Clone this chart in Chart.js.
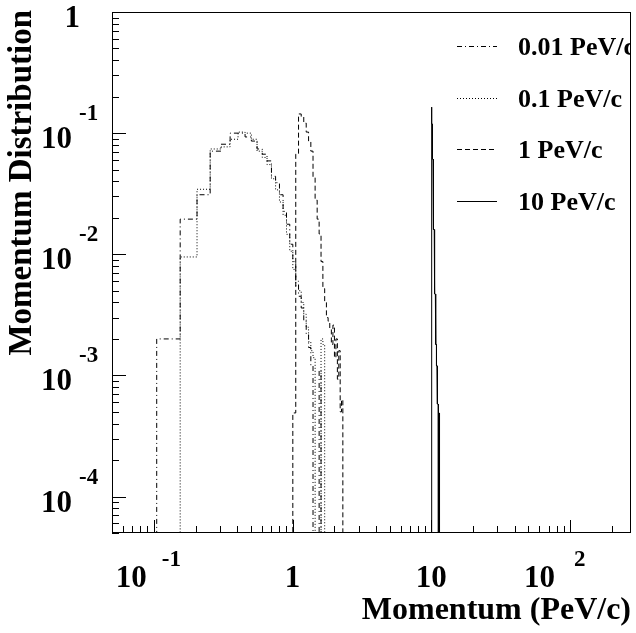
<!DOCTYPE html>
<html>
<head>
<meta charset="utf-8">
<script src="https://cdn.jsdelivr.net/npm/chart.js@4.4.0/dist/chart.umd.min.js"></script>
<style>
  html, body { margin: 0; padding: 0; background: #fff; }
  canvas { display: block; }
</style>
</head>
<body>
<canvas id="chart" width="636" height="633"></canvas>
<script>
// bin edges (PeV/c) and contents
const lowEdges = [0.105, 0.155, 0.205, 0.255, 0.305, 0.355, 0.405, 0.455, 0.505, 0.555,
  0.605, 0.655, 0.705, 0.755, 0.805, 0.855, 0.905, 0.955, 1.005, 1.055, 1.105, 1.155,
  1.205, 1.255, 1.305, 1.355, 1.405, 1.455, 1.505, 1.555, 1.605, 1.655, 1.705];
const values001 = [0.0020, 0.0195, 0.031, 0.071, 0.081, 0.100, 0.100, 0.093, 0.086, 0.074,
  0.067, 0.059, 0.044, 0.039, 0.031, 0.0226, 0.0177, 0.0121, 0.0087, 0.0060, 0.0045, 0.0036,
  0.0028, 0.0022, 0.0017, 0.0012, 0, 0, 0, 0.0011, 0, 0];
const values01 = [0, 0.0095, 0.0344, 0.074, 0.077, 0.089, 0.102, 0.100, 0.089, 0.071,
  0.063, 0.055, 0.042, 0.034, 0.027, 0.021, 0.0146, 0.0106, 0.0075, 0.0055, 0.0050, 0.0040,
  0.0032, 0.0025, 0.0019, 0.0016, 0.0014, 0, 0, 0, 0.0020, 0.0018];

const edges1 = [1.005, 1.055, 1.105, 1.155, 1.205, 1.255, 1.305, 1.355, 1.405, 1.455,
  1.505, 1.555, 1.605, 1.655, 1.705, 1.755, 1.805, 1.855, 1.905, 1.955, 2.005, 2.055,
  2.105, 2.155, 2.205, 2.255, 2.305];
const values1 = [0.00049, 0.067, 0.144, 0.136, 0.121, 0.102, 0.086, 0.071, 0.043, 0.028,
  0.0195, 0.0147, 0.0087, 0.0052, 0.0041, 0.0030, 0.0028, 0.0024, 0.0018, 0.0026, 0.0014,
  0.0020, 0.00093, 0.0016, 0.0005, 0.00063];

const edges10 = [10.0, 10.1, 10.2, 10.3, 10.4, 10.5, 10.6, 10.7, 10.8, 10.9, 11.0, 11.1,
  11.2, 11.3, 11.4, 11.5, 11.6];
const values10 = [0.164, 0.119, 0.061, 0.0284, 0.016, 0.0087, 0.0047, 0.0025, 0.0018,
  0.0012, 0.00085, 0.00058, 0.00049, 0, 0.00049, 0];

const seriesLabels = ["0.01 PeV/c", "0.1 PeV/c", "1 PeV/c", "10 PeV/c"];
const seriesDash = [[5, 3, 1, 3], [1, 2], [5, 3], []];

const xMajor = [0.1, 1, 10, 100];
const xTickBase = ["10", "1", "10", "10"];
const xTickExp = ["-1", "", "", "2"];
const yMajor = [1, 0.1, 0.01, 0.001, 0.0001];
const yTickBase = ["1", "10", "10", "10", "10"];
const yTickExp = ["", "-1", "-2", "-3", "-4"];

const X_MIN = 0.05, X_MAX = 275;
const Y_MIN = 5e-5, Y_MAX = 1;
const FLOOR = 1e-7; // empty bins drop below the axis

const SERIF = "'Liberation Serif', 'Times New Roman', serif";

// histogram outline: up at the first edge, across each bin, down at the last edge
function histPoints(edges, values) {
  const pts = [{ x: edges[0], y: FLOOR }];
  values.forEach((v, i) => {
    const y = v > 0 ? v : FLOOR;
    pts.push({ x: edges[i], y }, { x: edges[i + 1], y });
  });
  pts.push({ x: edges[edges.length - 1], y: FLOOR });
  return pts;
}

const histData = [
  histPoints(lowEdges, values001),
  histPoints(lowEdges, values01),
  histPoints(edges1, values1),
  histPoints(edges10, values10),
];

function logTicks(min, max) {
  const out = [];
  for (let e = Math.floor(Math.log10(min)); e <= Math.ceil(Math.log10(max)); e++) {
    for (let m = 1; m <= 9; m++) {
      const v = m * Math.pow(10, e);
      if (v >= min * 0.999 && v <= max * 1.001) out.push({ v, major: m === 1 });
    }
  }
  return out;
}

// frame, inward ticks, labels, titles and legend, drawn like the original
const rootAxes = {
  id: "rootAxes",
  afterDatasetsDraw(chart) {
    const { ctx, chartArea: a, scales } = chart;
    const x = scales.x, y = scales.y;
    ctx.save();
    ctx.strokeStyle = "#000";
    ctx.fillStyle = "#000";
    ctx.lineWidth = 1;
    ctx.setLineDash([]);

    ctx.strokeRect(Math.round(a.left) + 0.5, Math.round(a.top) + 0.5,
      Math.round(a.right - a.left) - 1, Math.round(a.bottom - a.top) - 1);

    ctx.beginPath();
    logTicks(X_MIN, X_MAX).forEach((t) => {
      const px = Math.round(x.getPixelForValue(t.v)) + 0.5;
      ctx.moveTo(px, a.bottom);
      ctx.lineTo(px, a.bottom - (t.major ? 13 : 7));
    });
    logTicks(Y_MIN, Y_MAX).forEach((t) => {
      const py = Math.round(y.getPixelForValue(t.v)) + 0.5;
      ctx.moveTo(a.left, py);
      ctx.lineTo(a.left + (t.major ? 14 : 7), py);
    });
    ctx.stroke();

    const big = "bold 31px " + SERIF;
    const small = "bold 23px " + SERIF;
    ctx.textBaseline = "alphabetic";

    xMajor.forEach((v, i) => {
      const px = x.getPixelForValue(v);
      ctx.font = big;
      if (xTickExp[i]) {
        // short exponents sit a little further left, as in the original
        const shift = xTickExp[i].length === 1 ? 8 : 0;
        ctx.textAlign = "right";
        ctx.fillText(xTickBase[i], px - 7 - shift, 587);
        ctx.font = small;
        ctx.textAlign = "left";
        ctx.fillText(xTickExp[i], px + 8 - shift / 2, 566);
      } else {
        ctx.textAlign = "center";
        ctx.fillText(xTickBase[i], px, 587);
      }
    });

    yMajor.forEach((v, i) => {
      const py = y.getPixelForValue(v);
      ctx.font = big;
      if (yTickExp[i]) {
        ctx.textAlign = "right";
        ctx.fillText(yTickBase[i], 72, py + 15);
        ctx.font = small;
        ctx.textAlign = "left";
        ctx.fillText(yTickExp[i], 79, py - 13);
      } else {
        ctx.textAlign = "right";
        ctx.fillText(yTickBase[i], 80, py + 15);
      }
    });

    ctx.font = "bold 32px " + SERIF;
    ctx.textAlign = "right";
    ctx.fillText("Momentum (PeV/c)", 631, 619);

    ctx.save();
    ctx.font = "bold 33px " + SERIF;
    ctx.translate(31, 10);
    ctx.rotate(-Math.PI / 2);
    ctx.fillText("Momentum Distribution", 0, 0);
    ctx.restore();

    // legend
    ctx.save();
    ctx.beginPath();
    ctx.rect(a.left, a.top, a.right - a.left, a.bottom - a.top);
    ctx.clip();
    ctx.font = "bold 26px " + SERIF;
    ctx.textAlign = "left";
    chart.data.datasets.forEach((ds, i) => {
      const ly = 46 + i * 51.5;
      ctx.setLineDash(ds.borderDash);
      ctx.beginPath();
      ctx.moveTo(457, Math.round(ly) + 0.5);
      ctx.lineTo(497, Math.round(ly) + 0.5);
      ctx.stroke();
      ctx.setLineDash([]);
      ctx.fillText(ds.label, 518, ly + 9);
    });
    ctx.restore();

    ctx.restore();
  },
};

new Chart(document.getElementById("chart"), {
  type: "line",
  data: {
    datasets: histData.map((pts, i) => ({
      label: seriesLabels[i],
      data: pts,
      borderColor: "#000",
      borderWidth: 1,
      borderDash: seriesDash[i],
      pointRadius: 0,
      fill: false,
      tension: 0,
    })),
  },
  options: {
    responsive: false,
    animation: false,
    layout: { padding: { left: 112, right: 5, top: 12, bottom: 100 } },
    plugins: { legend: { display: false }, tooltip: { enabled: false } },
    scales: {
      x: { type: "logarithmic", min: X_MIN, max: X_MAX, display: false },
      y: { type: "logarithmic", min: Y_MIN, max: Y_MAX, display: false },
    },
  },
  plugins: [rootAxes],
});
</script>
</body>
</html>
